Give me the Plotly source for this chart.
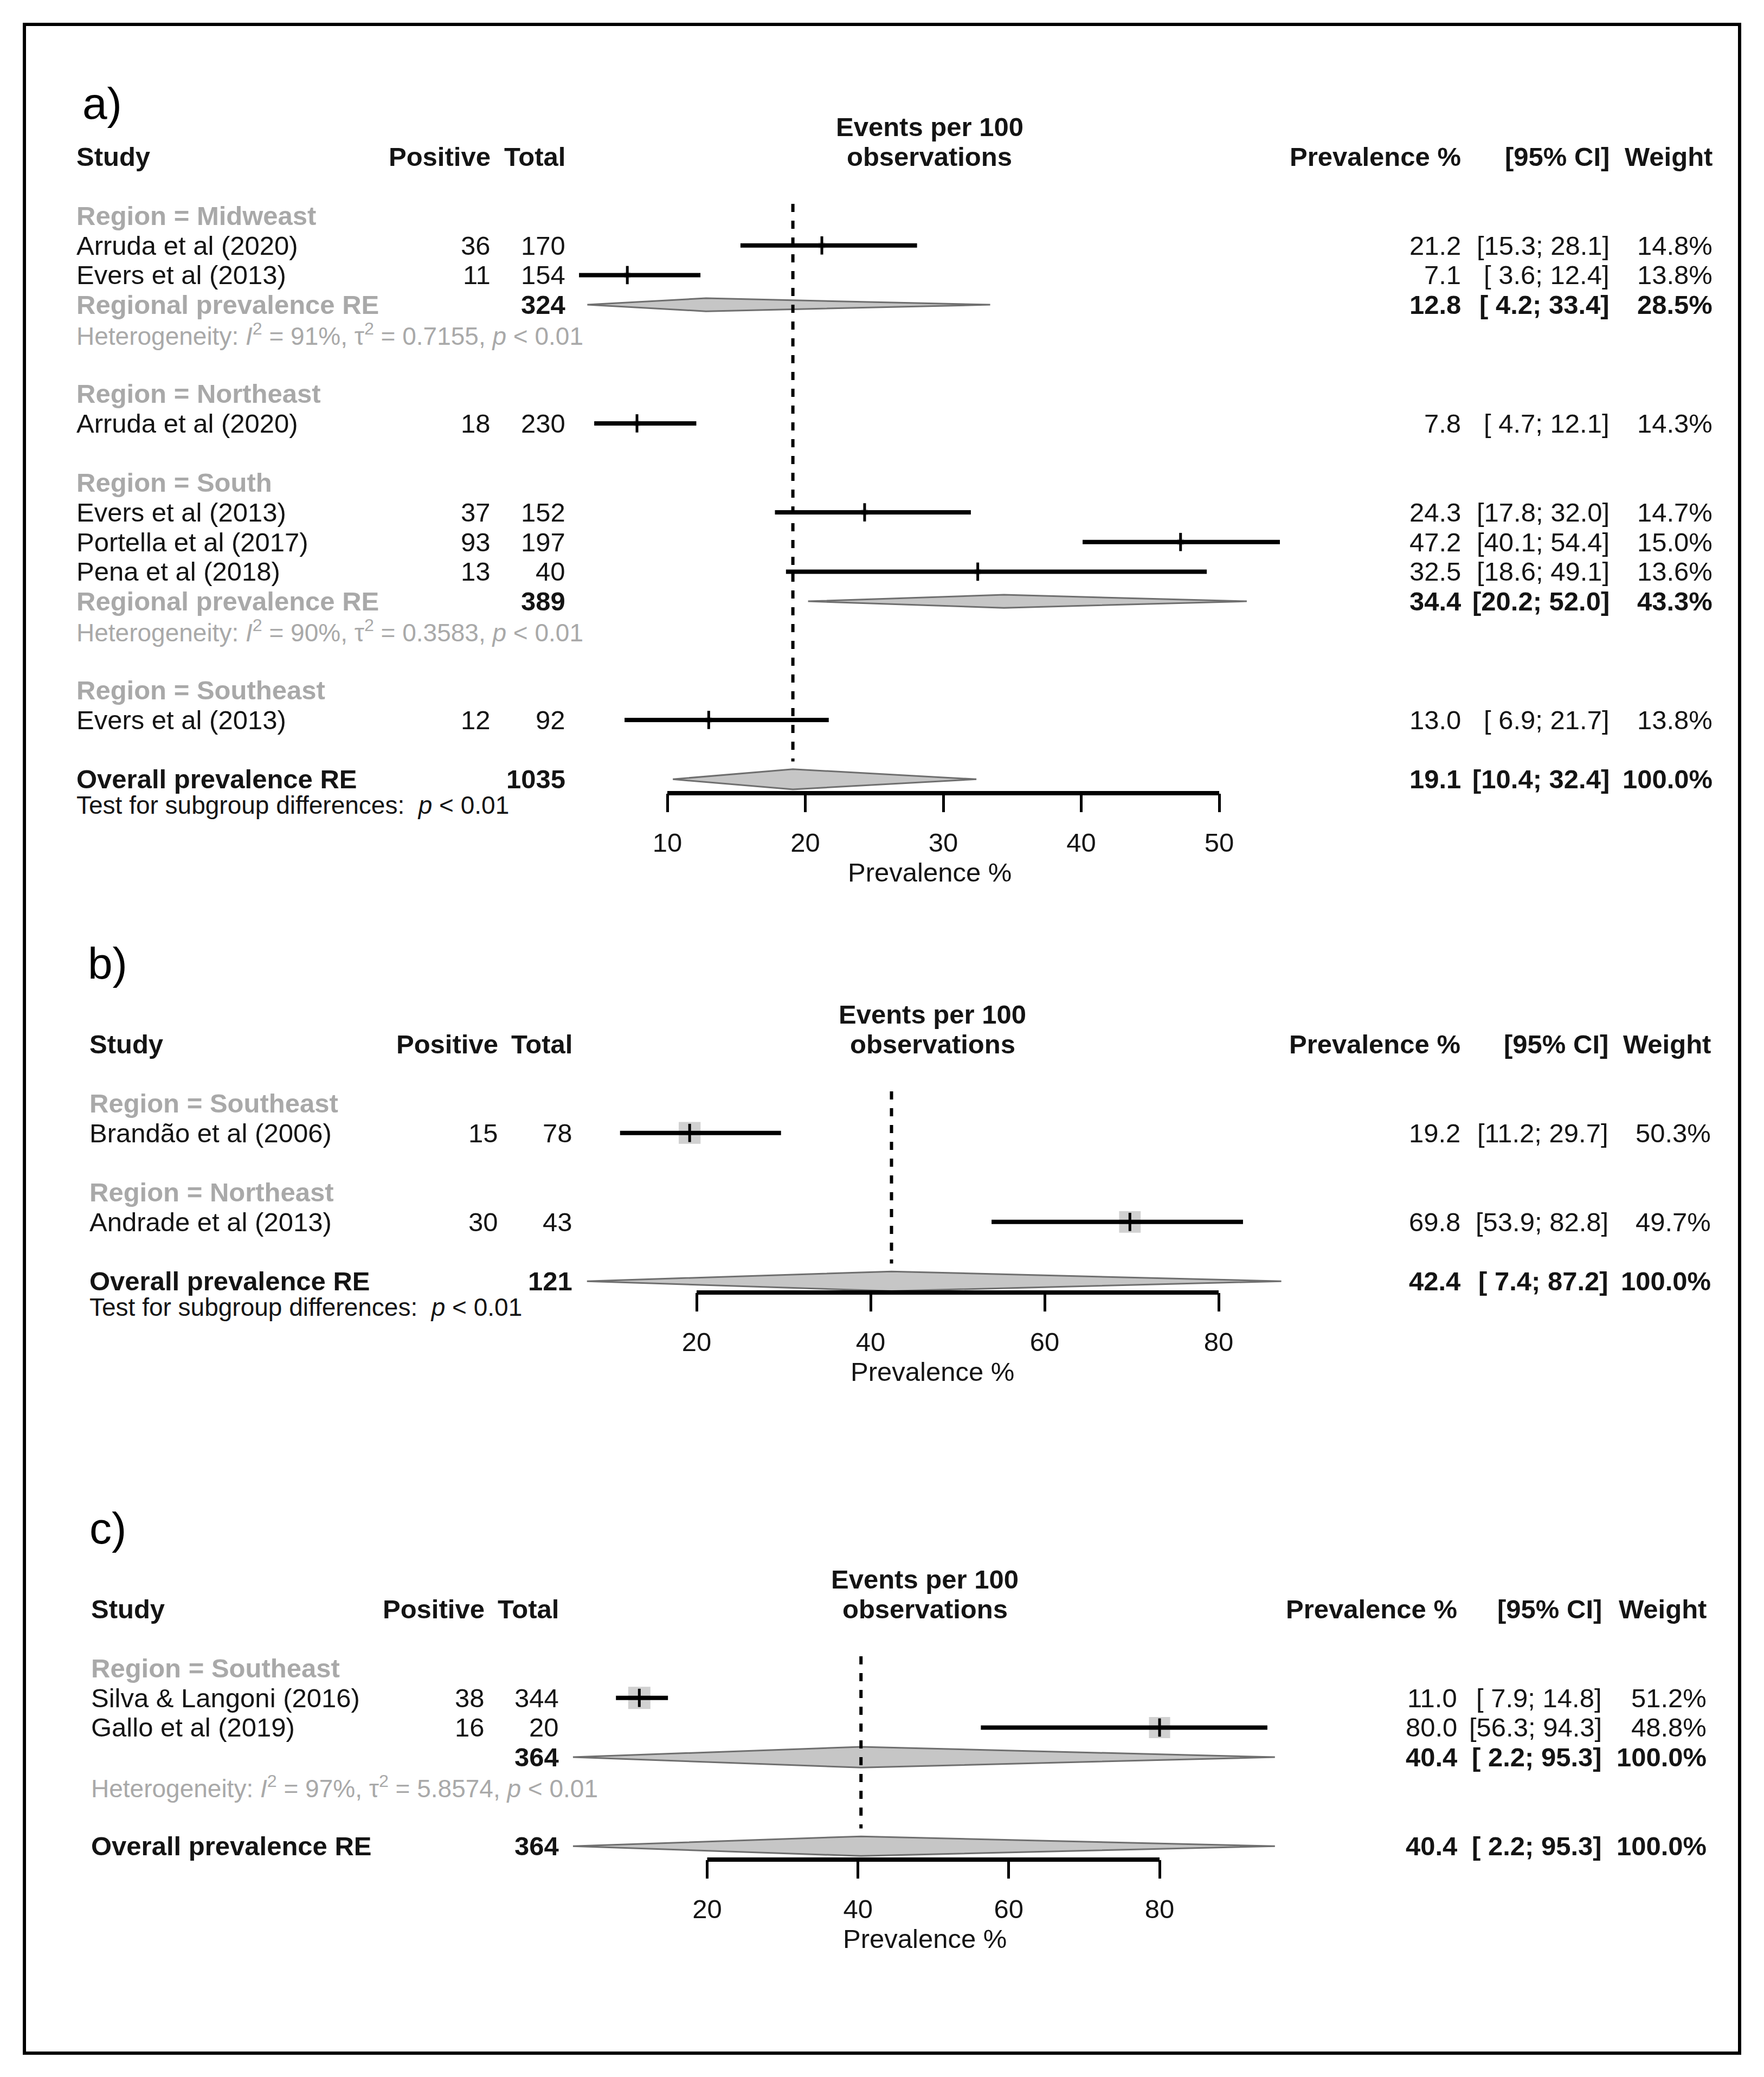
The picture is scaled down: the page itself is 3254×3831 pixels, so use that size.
import plotly.graph_objects as go

W, H = 3254, 3831          # browser window
OFF = 8                    # default body margin of the html page
FW, FH = W - 2 * OFF, H - 2 * OFF   # figure size
ROW = 54.7
FS = 49
FONT = "Liberation Sans, Arial, Helvetica, sans-serif"
INK = "#141414"
GREY_TXT = "#a9a9a9"
SQ = "#bebebe"
DIA_FILL = "#c6c6c6"
DIA_LINE = "#6f6f6f"

# ---------------- panel a data ----------------
a_regions = ["Midweast", "Northeast", "South", "Southeast"]
a_study = ["Arruda et al (2020)", "Evers et al (2013)", "Arruda et al (2020)",
           "Evers et al (2013)", "Portella et al (2017)", "Pena et al (2018)",
           "Evers et al (2013)"]
a_region_of = [0, 0, 1, 2, 2, 2, 3]
a_positive = [36, 11, 18, 37, 93, 13, 12]
a_total = [170, 154, 230, 152, 197, 40, 92]
a_est = [21.2, 7.1, 7.8, 24.3, 47.2, 32.5, 13.0]
a_lo = [15.3, 3.6, 4.7, 17.8, 40.1, 18.6, 6.9]
a_hi = [28.1, 12.4, 12.1, 32.0, 54.4, 49.1, 21.7]
a_weight = [14.8, 13.8, 14.3, 14.7, 15.0, 13.6, 13.8]
a_sub_region = [0, 2]
a_sub_total = [324, 389]
a_sub_est = [12.8, 34.4]
a_sub_lo = [4.2, 20.2]
a_sub_hi = [33.4, 52.0]
a_sub_weight = [28.5, 43.3]
a_het_i2 = [91, 90]
a_het_tau2 = ["0.7155", "0.3583"]
a_overall = [19.1, 10.4, 32.4, 100.0]
a_overall_total = 1035
a_ticks = [10, 20, 30, 40, 50]

# ---------------- panel b data ----------------
b_regions = ["Southeast", "Northeast"]
b_study = ["Brandão et al (2006)", "Andrade et al (2013)"]
b_region_of = [0, 1]
b_positive = [15, 30]
b_total = [78, 43]
b_est = [19.2, 69.8]
b_lo = [11.2, 53.9]
b_hi = [29.7, 82.8]
b_weight = [50.3, 49.7]
b_overall = [42.4, 7.4, 87.2, 100.0]
b_overall_total = 121
b_ticks = [20, 40, 60, 80]

# ---------------- panel c data ----------------
c_regions = ["Southeast"]
c_study = ["Silva & Langoni (2016)", "Gallo et al (2019)"]
c_region_of = [0, 0]
c_positive = [38, 16]
c_total = [344, 20]
c_est = [11.0, 80.0]
c_lo = [7.9, 56.3]
c_hi = [14.8, 94.3]
c_weight = [51.2, 48.8]
c_sub_region = [0]
c_sub_total = [364]
c_sub_est = [40.4]
c_sub_lo = [2.2]
c_sub_hi = [95.3]
c_sub_weight = [100.0]
c_het_i2 = [97]
c_het_tau2 = ["5.8574"]
c_overall = [40.4, 2.2, 95.3, 100.0]
c_overall_total = 364
c_ticks = [20, 40, 60, 80]

DATA = [
    dict(tag="a)", regions=a_regions, study=a_study, region_of=a_region_of, pos=a_positive,
         tot=a_total, est=a_est, lo=a_lo, hi=a_hi, w=a_weight, sub_region=a_sub_region,
         sub_tot=a_sub_total, sub_est=a_sub_est, sub_lo=a_sub_lo, sub_hi=a_sub_hi,
         sub_w=a_sub_weight, het_i2=a_het_i2, het_tau2=a_het_tau2, overall=a_overall,
         overall_tot=a_overall_total, ticks=a_ticks, sub_label="Regional prevalence RE",
         test=True),
    dict(tag="b)", regions=b_regions, study=b_study, region_of=b_region_of, pos=b_positive,
         tot=b_total, est=b_est, lo=b_lo, hi=b_hi, w=b_weight, sub_region=[],
         sub_tot=[], sub_est=[], sub_lo=[], sub_hi=[], sub_w=[], het_i2=[], het_tau2=[],
         overall=b_overall, overall_tot=b_overall_total, ticks=b_ticks, sub_label="",
         test=True),
    dict(tag="c)", regions=c_regions, study=c_study, region_of=c_region_of, pos=c_positive,
         tot=c_total, est=c_est, lo=c_lo, hi=c_hi, w=c_weight, sub_region=c_sub_region,
         sub_tot=c_sub_total, sub_est=c_sub_est, sub_lo=c_sub_lo, sub_hi=c_sub_hi,
         sub_w=c_sub_weight, het_i2=c_het_i2, het_tau2=c_het_tau2, overall=c_overall,
         overall_tot=c_overall_total, ticks=c_ticks, sub_label="", test=False),
]

# ---------------- layout (pixel geometry in window coordinates) ----------------
LAYOUT = [
    dict(row0=398, axis_px=1463, top_px=95, tick_px=(1231, 2249), label_x=150, label_px=191,
         study_x=139, pos_x=907, tot_x=1045, fp_x=1715, prev_x=2697, ci_x=2971, w_x=3161,
         sub_half=0.22, ov_half=0.34),
    dict(row0=2035, axis_px=2384, top_px=1680, tick_px=(1285, 2248), label_x=160, label_px=1776,
         study_x=163, pos_x=921, tot_x=1058, fp_x=1720, prev_x=2696, ci_x=2969, w_x=3158,
         sub_half=0.34, ov_half=0.33),
    dict(row0=3077, axis_px=3430, top_px=2740, tick_px=(1304.5, 2139), label_x=163, label_px=2818,
         study_x=166, pos_x=896, tot_x=1033, fp_x=1706, prev_x=2690, ci_x=2957, w_x=3150,
         sub_half=0.35, ov_half=0.33),
]


def px_x(px):
    return (px - OFF) / FW


def px_y(py):
    return 1 - (py - OFF) / FH


fig = go.Figure()
annotations = []
shapes = []


def txt(text, x_px, yref, y, anchor="left", size=FS, color=INK, bold=False):
    annotations.append(dict(
        text=("<b>%s</b>" % text) if bold else text, xref="paper", x=px_x(x_px),
        yref=yref, y=y, xanchor=anchor, yanchor="middle", showarrow=False,
        font=dict(family=FONT, size=size, color=color)))


layout_axes = {}
for k, (D, L) in enumerate(zip(DATA, LAYOUT)):
    n = k + 1
    xa = "x" if n == 1 else "x%d" % n
    ya = "y" if n == 1 else "y%d" % n
    xkey = "xaxis" if n == 1 else "xaxis%d" % n
    ykey = "yaxis" if n == 1 else "yaxis%d" % n

    # --- axis ranges from pixel geometry
    v0, v1 = D["ticks"][0], D["ticks"][-1]
    p0, p1 = L["tick_px"][0] - OFF, L["tick_px"][1] - OFF
    sc = (p1 - p0) / (v1 - v0)
    x0 = v0 - p0 / sc
    x1 = x0 + FW / sc
    ydom = [px_y(L["axis_px"]), px_y(L["top_px"])]
    yrng = [(L["axis_px"] - L["row0"]) / ROW, (L["top_px"] - L["row0"]) / ROW]

    def row_paper(r, L=L):
        return px_y(L["row0"] + r * ROW)

    layout_axes[xkey] = dict(domain=[0, 1], range=[x0, x1], anchor=ya, showgrid=False,
                             zeroline=False, showline=False, tickmode="array",
                             tickvals=D["ticks"], ticktext=[str(t) for t in D["ticks"]],
                             ticks="outside", ticklen=34, tickwidth=5, tickcolor="#000",
                             ticklabelstandoff=14,
                             tickfont=dict(family=FONT, size=FS, color=INK), fixedrange=True)
    layout_axes[ykey] = dict(domain=ydom, range=yrng, anchor=xa, visible=False, fixedrange=True)

    # --- row assignment
    nst = len(D["study"])
    study_rows = [None] * nst
    region_rows, sub_rows, het_rows = [], {}, {}
    r = 0
    for g, name in enumerate(D["regions"]):
        region_rows.append(r)
        r += 1
        for i in range(nst):
            if D["region_of"][i] == g:
                study_rows[i] = r
                r += 1
        if g in D["sub_region"]:
            sub_rows[g] = r
            r += 1
            het_rows[g] = r
            r += 1
        r += 1
    ov_row = r

    # --- headers
    txt(D["tag"], L["label_x"], "paper", px_y(L["label_px"]), size=82, color="#000")
    txt("Study", L["study_x"], ya, -2, bold=True)
    txt("Positive", L["pos_x"], ya, -2, anchor="right", bold=True)
    txt("Total", L["tot_x"], ya, -2, anchor="right", bold=True)
    txt("Events per 100", L["fp_x"], ya, -3, anchor="center", bold=True)
    txt("observations", L["fp_x"], ya, -2, anchor="center", bold=True)
    txt("Prevalence %", L["prev_x"], ya, -2, anchor="right", bold=True)
    txt("[95% CI]", L["ci_x"], ya, -2, anchor="right", bold=True)
    txt("Weight", L["w_x"], ya, -2, anchor="right", bold=True)

    # --- region labels
    for g, name in enumerate(D["regions"]):
        txt("Region = %s" % name, L["study_x"], ya, region_rows[g], color=GREY_TXT, bold=True)

    # --- study rows text
    for i in range(nst):
        rr = study_rows[i]
        txt(D["study"][i], L["study_x"], ya, rr)
        txt(str(D["pos"][i]), L["pos_x"], ya, rr, anchor="right")
        txt(str(D["tot"][i]), L["tot_x"], ya, rr, anchor="right")
        txt("%.1f" % D["est"][i], L["prev_x"], ya, rr, anchor="right")
        txt("[%4.1f; %4.1f]" % (D["lo"][i], D["hi"][i]), L["ci_x"], ya, rr, anchor="right")
        txt("%.1f%%" % D["w"][i], L["w_x"], ya, rr, anchor="right")

    # --- subgroup pooled rows
    for j, g in enumerate(D["sub_region"]):
        rr = sub_rows[g]
        if D["sub_label"]:
            txt(D["sub_label"], L["study_x"], ya, rr, color=GREY_TXT, bold=True)
        txt(str(D["sub_tot"][j]), L["tot_x"], ya, rr, anchor="right", bold=True)
        txt("%.1f" % D["sub_est"][j], L["prev_x"], ya, rr, anchor="right", bold=True)
        txt("[%4.1f; %4.1f]" % (D["sub_lo"][j], D["sub_hi"][j]), L["ci_x"], ya, rr,
            anchor="right", bold=True)
        txt("%.1f%%" % D["sub_w"][j], L["w_x"], ya, rr, anchor="right", bold=True)
        het = ("Heterogeneity: <i>I</i><sup>2</sup> = %d%%, τ<sup>2</sup> = %s, <i>p</i> &lt; 0.01"
               % (D["het_i2"][j], D["het_tau2"][j]))
        txt(het, L["study_x"], ya, het_rows[g], size=46, color=GREY_TXT)
        e, lo, hi = D["sub_est"][j], D["sub_lo"][j], D["sub_hi"][j]
        h = L["sub_half"]
        fig.add_trace(go.Scatter(x=[lo, e, hi, e, lo], y=[rr, rr - h, rr, rr + h, rr],
                                 xaxis=xa, yaxis=ya, mode="lines", fill="toself",
                                 fillcolor=DIA_FILL, line=dict(color=DIA_LINE, width=3),
                                 hoverinfo="skip", showlegend=False))

    # --- overall row
    oe, olo, ohi, ow = D["overall"]
    txt("Overall prevalence RE", L["study_x"], ya, ov_row, bold=True)
    txt(str(D["overall_tot"]), L["tot_x"], ya, ov_row, anchor="right", bold=True)
    txt("%.1f" % oe, L["prev_x"], ya, ov_row, anchor="right", bold=True)
    txt("[%4.1f; %4.1f]" % (olo, ohi), L["ci_x"], ya, ov_row, anchor="right", bold=True)
    txt("%.1f%%" % ow, L["w_x"], ya, ov_row, anchor="right", bold=True)
    if D["test"]:
        txt("Test for subgroup differences: \u00a0<i>p</i> &lt; 0.01", L["study_x"], "paper",
            row_paper(ov_row + 0.88), size=46)
    h = L["ov_half"]
    fig.add_trace(go.Scatter(x=[olo, oe, ohi, oe, olo],
                             y=[ov_row, ov_row - h, ov_row, ov_row + h, ov_row],
                             xaxis=xa, yaxis=ya, mode="lines", fill="toself",
                             fillcolor=DIA_FILL, line=dict(color=DIA_LINE, width=3),
                             hoverinfo="skip", showlegend=False))

    # --- study squares, CI lines, point ticks
    fig.add_trace(go.Scatter(x=D["est"], y=study_rows, xaxis=xa, yaxis=ya, mode="markers",
                             marker=dict(symbol="square", size=[w * 0.8 for w in D["w"]],
                                         color=SQ, line=dict(width=0)),
                             hoverinfo="skip", showlegend=False))
    cx, cy = [], []
    for i in range(nst):
        cx += [D["lo"][i], D["hi"][i], None]
        cy += [study_rows[i], study_rows[i], None]
    fig.add_trace(go.Scatter(x=cx, y=cy, xaxis=xa, yaxis=ya, mode="lines",
                             line=dict(color="#000", width=8), hoverinfo="skip",
                             showlegend=False))
    fig.add_trace(go.Scatter(x=D["est"], y=study_rows, xaxis=xa, yaxis=ya, mode="markers",
                             marker=dict(symbol="line-ns", size=24,
                                         line=dict(width=5, color="#000")),
                             hoverinfo="skip", showlegend=False))

    # --- reference (dashed) line at the overall estimate
    shapes.append(dict(type="line", xref=xa, yref=ya, x0=oe, x1=oe, y0=-0.4, y1=ov_row - 0.6,
                       line=dict(color="#000", width=6, dash="15px,16px"), layer="above"))
    # --- axis line from first to last tick
    shapes.append(dict(type="line", xref=xa, yref=ya + " domain", x0=v0, x1=v1, y0=0, y1=0,
                       line=dict(color="#000", width=8), layer="above"))
    # --- axis title
    txt("Prevalence %", L["fp_x"], "paper", px_y(L["axis_px"] + 146), anchor="center")

# outer frame
shapes.append(dict(type="rect", xref="paper", yref="paper", x0=px_x(45), x1=px_x(3209),
                   y0=px_y(3787), y1=px_y(45), line=dict(color="#000", width=6)))

fig.update_layout(width=FW, height=FH, margin=dict(l=0, r=0, t=0, b=0),
                  paper_bgcolor="white", plot_bgcolor="white",
                  annotations=annotations, shapes=shapes, showlegend=False,
                  **layout_axes)

fig.write_html("out.html")
